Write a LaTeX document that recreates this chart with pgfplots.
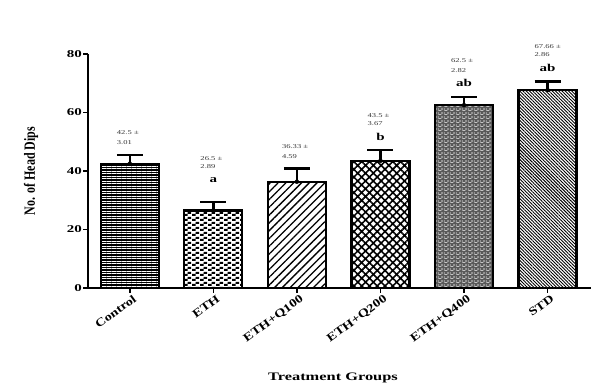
\documentclass[border=0pt]{standalone}
\usepackage{fontspec}
\setmainfont{Liberation Serif}
\usepackage{pgfplots}
\pgfplotsset{compat=1.18}
\usetikzlibrary{patterns,patterns.meta}

\pgfdeclarepatternformonly{checkr}{\pgfqpoint{0bp}{0bp}}{\pgfqpoint{8bp}{5bp}}{\pgfqpoint{8bp}{5bp}}%
{\pgfpathrectangle{\pgfqpoint{0bp}{0bp}}{\pgfqpoint{4bp}{2.5bp}}\pgfpathrectangle{\pgfqpoint{4bp}{2.5bp}}{\pgfqpoint{4bp}{2.5bp}}\pgfusepath{fill}}
\pgfdeclarepatternformonly{brickw}{\pgfqpoint{0bp}{0bp}}{\pgfqpoint{6bp}{4bp}}{\pgfqpoint{6bp}{4bp}}%
{\pgfpathrectangle{\pgfqpoint{0.5bp}{0bp}}{\pgfqpoint{3.5bp}{0.9bp}}\pgfpathrectangle{\pgfqpoint{3.5bp}{2bp}}{\pgfqpoint{2.5bp}{0.9bp}}\pgfpathrectangle{\pgfqpoint{0bp}{2bp}}{\pgfqpoint{1bp}{0.9bp}}\pgfusepath{fill}}

\pgfplotstableread{
x y e
0 42.5 3.01
1 26.5 2.89
2 36.33 4.59
3 43.5 3.67
4 62.5 2.82
5 67.66 2.86
}\datatable

\newcommand{\wide}[1]{\scalebox{1.43}[1]{#1}}
\newcommand{\widex}[1]{\scalebox{1.25}[1]{#1}}

\begin{document}
\begin{tikzpicture}
\path[use as bounding box] (0,0) rectangle (599bp,391bp);
\begin{axis}[
  at={(88bp,103bp)}, anchor=south west,
  scale only axis, width=503bp, height=234bp,
  xmin=-0.5, xmax=5.52, ymin=0, ymax=80,
  clip=false,
  axis lines*=left,
  axis line style={line width=1.8bp, black},
  every tick/.style={line width=1.5bp, black},
  tick align=outside, major tick length=5bp,
  ytick={0,20,40,60,80},
  xtick={0,1,2,3,4,5},
  xticklabels={\widex{Control},\widex{ETH},\widex{ETH+Q100},\widex{ETH+Q200},\widex{ETH+Q400},\widex{STD}},
  /pgf/number format/assume math mode=true,
  yticklabel={\wide{\pgfmathprintnumber{\tick}}},
  yticklabel style={font=\bfseries\fontsize{10.5}{12}\selectfont, inner sep=1bp},
  xticklabel style={font=\bfseries\fontsize{11.5}{12}\selectfont, rotate=36, anchor=north east, inner sep=0.5bp, xshift=2bp, yshift=-2bp},
  xlabel={\wide{Treatment Groups}},
  xlabel style={at={(axis description cs:0.487,-0.385)}, anchor=center, font=\bfseries\fontsize{11.5}{12}\selectfont},
  ylabel={\scalebox{1}[1.3]{No. of Head Dips}},
  ylabel style={at={(axis description cs:-0.113,0.5)}, anchor=center, rotate=0, font=\bfseries\fontsize{12}{13}\selectfont},
]
\pgfplotsset{mybar/.style={ybar, bar width=58bp, bar shift=0pt, draw=black, line width=2.2bp}}
\addplot[mybar, fill=black, postaction={pattern={Lines[angle=0,distance=2.5bp,line width=0.5bp]}, pattern color=white}] coordinates {(0,42.5)};
\addplot[mybar, fill=white, postaction={pattern=checkr, pattern color=black}] coordinates {(1,26.5)};
\addplot[mybar, fill=white, postaction={pattern={Lines[angle=45,distance=5.5bp,line width=1.3bp]}, pattern color=black}] coordinates {(2,36.33)};
\addplot[mybar, fill=white, postaction={pattern={Hatch[angle=45,distance=5.5bp,line width=1.6bp]}, pattern color=black}] coordinates {(3,43.5)};
\addplot[mybar, fill=black!65, postaction={pattern=brickw, pattern color=white}] coordinates {(4,62.5)};
\addplot[mybar, fill=white, postaction={pattern={Lines[angle=-45,distance=2.3bp,line width=0.9bp]}, pattern color=black}] coordinates {(5,67.66)};

\addplot[only marks, mark=none, black,
  error bars/.cd, y dir=plus, y explicit,
  error bar style={line width=2.5bp, black},
  error mark options={rotate=90, mark size=13bp, line width=2.5bp, black}]
  table[x=x, y=y, y error=e] {\datatable};

\tikzset{ann/.style={anchor=west, inner sep=0, font=\fontsize{6}{7}\selectfont, text=black!80},
         let/.style={anchor=center, inner sep=0, font=\bfseries\fontsize{10.5}{11}\selectfont}}
\node[ann] at (axis cs:-0.156,53.0) {\wide{42.5 ±}};
\node[ann] at (axis cs:-0.156,49.6) {\wide{3.01}};
\node[ann] at (axis cs:0.844,44.4) {\wide{26.5 ±}};
\node[ann] at (axis cs:0.844,41.4) {\wide{2.89}};
\node[let] at (axis cs:1,36.9) {\wide{a}};
\node[ann] at (axis cs:1.82,48.2) {\wide{36.33 ±}};
\node[ann] at (axis cs:1.82,45.1) {\wide{4.59}};
\node[ann] at (axis cs:2.844,59.1) {\wide{43.5 ±}};
\node[ann] at (axis cs:2.844,56.1) {\wide{3.67}};
\node[let] at (axis cs:3,51.6) {\wide{b}};
\node[ann] at (axis cs:3.844,77.6) {\wide{62.5 ±}};
\node[ann] at (axis cs:3.844,74.5) {\wide{2.82}};
\node[let] at (axis cs:4,70.1) {\wide{ab}};
\node[ann] at (axis cs:4.844,82.7) {\wide{67.66 ±}};
\node[ann] at (axis cs:4.844,79.7) {\wide{2.86}};
\node[let] at (axis cs:5,75.2) {\wide{ab}};
\end{axis}
\end{tikzpicture}
\end{document}
